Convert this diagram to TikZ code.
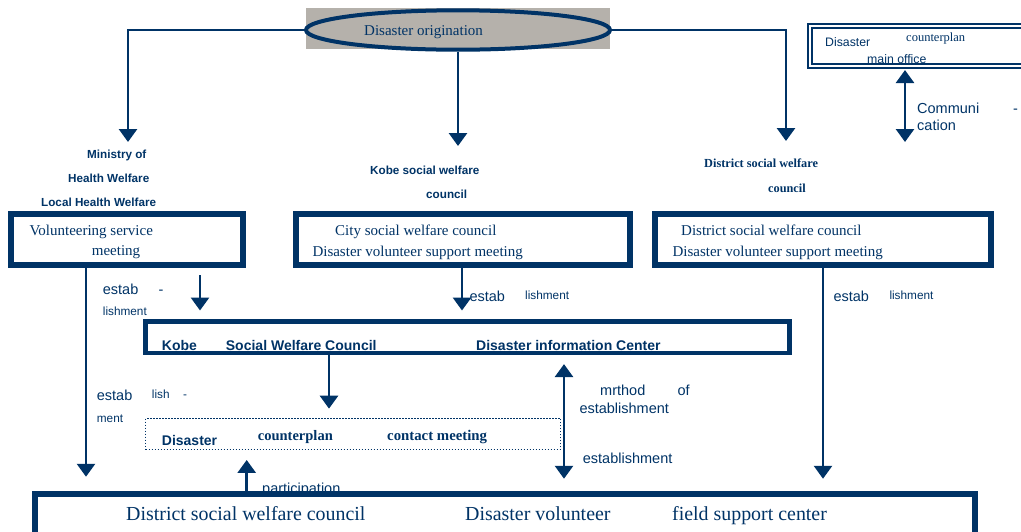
\documentclass[tikz,border=0pt]{standalone}
\usepackage{fontspec}
\setmainfont{Liberation Serif}
\setsansfont{Liberation Sans}
\usetikzlibrary{arrows.meta,shapes.geometric}
\definecolor{navy}{RGB}{0,51,102}
\definecolor{ashgray}{RGB}{181,177,171}
\newcommand\fsz[1]{\fontsize{#1}{#1}\selectfont}

\begin{document}
\begin{tikzpicture}[x=1pt,y=-1pt,
  every node/.style={text=navy, inner sep=0pt, anchor=base west},
  link/.style={draw=navy, line width=2.8pt},
  arr/.style={link, -{Triangle[width=18pt,length=13pt]}},
  darr/.style={link, {Triangle[width=18pt,length=13pt]}-{Triangle[width=18pt,length=13pt]}},
  frame/.style={draw=navy, line width=6pt, fill=white, anchor=center},
  rm/.style={font=\fsz{15}\rmfamily},
  big/.style={font=\fsz{19.9}\rmfamily},
  sf/.style={font=\fsz{14.5}\sffamily},
  sfs/.style={font=\fsz{11.8}\sffamily},
  hd/.style={font=\fsz{11.7}\sffamily\bfseries},
  hdrm/.style={font=\fsz{12.3}\rmfamily\bfseries}
  ]
  \useasboundingbox (0,0) rectangle (1021,531);

  \fill[ashgray] (306,8) rectangle (610,49);
  \node[ellipse, draw=navy, line width=4pt, minimum width=304pt, minimum height=39.4pt, anchor=center] (origin) at (458,30) {};
  \node[rm] (origtext) at (364,35) {Disaster origination};

  \node[draw=navy, double=white, double distance=2pt, line width=2pt, fill=white, minimum width=225pt, minimum height=40.3pt, anchor=center] (office) at (922.5,45.9) {};
  \node[font=\fsz{12.3}\sffamily] (off1) at (825,46.7) {Disaster};
  \node[font=\fsz{12.5}\rmfamily] (off2) at (906,41) {counterplan};
  \node[font=\fsz{12.3}\sffamily] (off3) at (867,63.3) {main office};
  \node[sf] (com1) at (917,113) {Communi};
  \node[sf] (com2) at (1013,113) {-};
  \node[sf] (com3) at (917,130) {cation};

  \node[hd] (min1) at (87,158.3) {Ministry of};
  \node[hd] (min2) at (68,182.3) {Health Welfare};
  \node[hd] (min3) at (41,206) {Local Health Welfare};
  \node[hd] (kobe1) at (370,174) {Kobe social welfare};
  \node[hd] (kobe2) at (426,198.3) {council};
  \node[hdrm] (dist1) at (704,167.3) {District social welfare};
  \node[hdrm] (dist2) at (768,192.7) {council};

  \node[frame, minimum width=232pt, minimum height=51pt] (volbox) at (127,239.5) {};
  \node[rm] at (29.3,235.7) {Volunteering service};
  \node[rm] at (91.7,255) {meeting};
  \node[frame, minimum width=334pt, minimum height=51pt] (citybox) at (463,239.5) {};
  \node[rm] at (335,235.7) {City social welfare council};
  \node[rm] at (312.3,256) {Disaster volunteer support meeting};
  \node[frame, minimum width=336pt, minimum height=51pt] (distbox) at (823,239.5) {};
  \node[rm] at (681,235.7) {District social welfare council};
  \node[rm] at (672.3,256) {Disaster volunteer support meeting};

  \node[frame, line width=4.5pt, minimum width=644pt, minimum height=31.3pt] (infobox) at (467.5,337.2) {};
  \node[font=\fsz{14}\sffamily\bfseries] at (161.7,350) {Kobe};
  \node[font=\fsz{14}\sffamily\bfseries] at (225.7,350) {Social Welfare Council};
  \node[font=\fsz{14}\sffamily\bfseries] at (476,350) {Disaster information Center};

  \node[draw=navy, line width=1.3pt, dash pattern=on 1.3pt off 1.7pt, minimum width=415pt, minimum height=30.8pt, anchor=center] (meetbox) at (353.2,433.9) {};
  \node[font=\fsz{14}\sffamily\bfseries] at (161.7,445) {Disaster};
  \node[font=\fsz{14.5}\rmfamily\bfseries] at (257.7,440) {counterplan};
  \node[font=\fsz{14.8}\rmfamily\bfseries] at (387,440) {contact meeting};

  \node[sf] (part) at (262,493.7) {participation};
  \node[frame, minimum width=939.7pt, minimum height=46.3pt] (fieldbox) at (505.2,516.9) {};
  \node[big] at (126,520) {District social welfare council};
  \node[big] at (465,520) {Disaster volunteer};
  \node[big] at (672,520) {field support center};

  \node[sf] at (102.7,294) {estab};
  \node[sf] at (158.3,294) {-};
  \node[sfs] at (102.7,315.7) {lishment};
  \node[sf] at (469.3,301.7) {estab};
  \node[sfs] at (525,299.3) {lishment};
  \node[sf] at (833.3,301.7) {estab};
  \node[sfs] at (889.3,299.3) {lishment};
  \node[sf] at (96.7,400.7) {estab};
  \node[sfs] at (151.7,398) {lish};
  \node[sfs] at (183,398) {-};
  \node[sfs] at (96.7,422.7) {ment};
  \node[sf] at (600,395.7) {mrthod};
  \node[sf] at (677.3,395.7) {of};
  \node[sf] at (579.3,413.3) {establishment};
  \node[sf] at (582.7,463.3) {establishment};

  \coordinate (mtip) at (128,142);
  \coordinate (ktip) at (458,146);
  \coordinate (dtip) at (786,141);
  \coordinate (ctip) at (905,142);
  \draw[arr] (origin.west) -| (mtip);
  \draw[arr] (origin.south) -- (ktip);
  \draw[arr] (origin.east) -| (dtip);
  \draw[darr, shorten <=3pt] (office.south -| ctip) -- (ctip);

  \draw[arr, shorten >=14pt] (volbox.south -| 86,0) -- (fieldbox.north -| 86,0);
  \draw[arr, shorten <=7pt, shorten >=8.8pt] (volbox.south -| 200,0) -- (infobox.north -| 200,0);
  \draw[arr, shorten >=8.8pt] (citybox.south -| 462,0) -- (infobox.north -| 462,0);
  \draw[arr, shorten >=12pt] (distbox.south -| 823,0) -- (fieldbox.north -| 823,0);
  \draw[arr, shorten >=9.2pt] (infobox.south -| 329,0) -- (meetbox.north -| 329,0);
  \draw[darr, shorten <=9pt, shorten >=12pt] (infobox.south -| 564,0) -- (fieldbox.north -| 564,0);
  \draw[arr, shorten >=10pt] (fieldbox.north -| 246.7,0) -- (meetbox.south -| 246.7,0);
\end{tikzpicture}
\end{document}
